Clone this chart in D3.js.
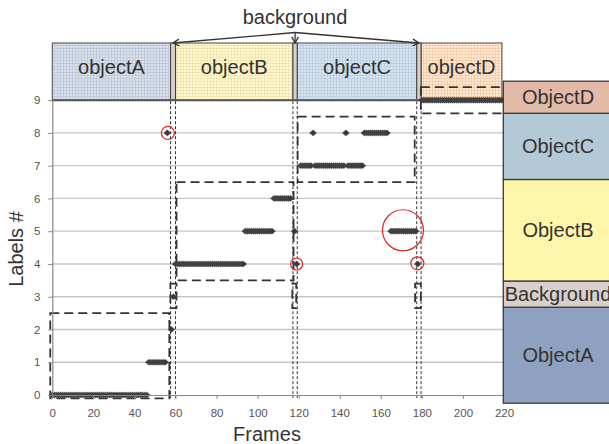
<!DOCTYPE html>
<html><head><meta charset="utf-8">
<script src="https://cdn.jsdelivr.net/npm/d3@7"></script>
<style>body{margin:0;background:#fff}svg{display:block}</style>
</head><body><svg id="c" width="609" height="444"></svg>
<script>
// ---- data ----
const labels = [
  0,0,0,0,0,0,0,0,0,0,
  0,0,0,0,0,0,0,0,0,0,
  0,0,0,0,0,0,0,0,0,0,
  0,0,0,0,0,0,0,0,0,0,
  0,0,0,0,0,0,0,1,1,1,
  1,1,1,1,1,1,8,null,2,3,
  4,4,4,4,4,4,4,4,4,4,
  4,4,4,4,4,4,4,4,4,4,
  4,4,4,4,4,4,4,4,4,4,
  4,4,4,4,5,5,5,5,5,5,
  5,5,5,5,5,5,5,5,6,6,
  6,6,6,6,6,6,6,null,5,4,
  null,7,7,7,7,7,7,8,7,7,
  7,7,7,7,7,7,7,7,7,7,
  7,7,7,8,7,7,7,7,7,7,
  7,7,8,8,8,8,8,8,8,8,
  8,8,8,8,null,5,5,5,5,5,
  5,5,5,5,5,5,5,5,4,null,
  9,9,9,9,9,9,9,9,9,9,
  9,9,9,9,9,9,9,9,9,9,
  9,9,9,9,9,9,9,9,9,9,
  9,9,9,9,9,9,9,9,9,9
];
const xTicks = [0,20,40,60,80,100,120,140,160,180,200,220];
const yTicks = [0,1,2,3,4,5,6,7,8,9];

// header segments (frames)
const headerNames = ["objectA","objectB","objectC","objectD"];
const headerStart = [0, 60.0, 119.3, 179.6];
const headerEnd   = [57.6, 117.2, 177.5, 219];
const stripStart  = [57.6, 117.2, 177.5];
const stripEnd    = [60.0, 119.3, 179.6];

// dashed annotation boxes [x0,x1,y0,y1] in frame/label units
const boxX0 = [-1, 60.5, 119.5, 179.5, 57.5, 116.9, 176.7];
const boxX1 = [57, 117.5, 176.5, 220, 60.5, 118.8, 179.5];
const boxY0 = [-0.1, 3.5, 6.5, 8.6, 2.65, 2.65, 2.65];
const boxY1 = [2.5, 6.5, 8.5, 9.4, 3.4, 3.4, 3.4];

// red circles
const circFrame = [56.3, 119, 170.8, 177.8];
const circLabel = [8, 4, 5.03, 4.02];
const circR     = [6.5, 6, 20.5, 6.5];

// legend
const legendNames = ["ObjectA","Background","ObjectB","ObjectC","ObjectD"];
const legendLo    = [-0.25, 2.68, 3.48, 6.58, 8.6];
const legendHi    = [2.68, 3.48, 6.58, 8.6, 9.58];
const legendColors= ["#8fa1c0","#d9d0cc","#fdf5a9","#b4c9d8","#e3b9a8"];
const headerBase  = ["#dbe1ec","#fef9d6","#d7e4ef","#fde9d5"];
const headerGrid  = ["#bcc6d8","#f0e3a4","#b9cfe1","#f5caa2"];

// ---- drawing ----
const svg = d3.select("#c");
const x = d3.scaleLinear().domain([0,220]).range([52.3,504]);
const y = d3.scaleLinear().domain([0,9]).range([395,100.2]);
const headerTop = 43;
const font = "'Liberation Sans', Arial, sans-serif";

const defs = svg.append("defs");
headerBase.forEach((c,i)=>{
  const p = defs.append("pattern").attr("id","pat"+i).attr("patternUnits","userSpaceOnUse")
    .attr("width",3).attr("height",3);
  p.append("rect").attr("width",3).attr("height",3).attr("fill",c);
  p.append("path").attr("d","M0,0.5H3M0.5,0V3").attr("stroke",headerGrid[i]).attr("stroke-width",0.8);
});

// gridlines
svg.append("g").selectAll("line").data(yTicks.filter(d=>d>0&&d<9)).join("line")
  .attr("x1",x(0)).attr("x2",503).attr("y1",d=>y(d)).attr("y2",d=>y(d))
  .attr("stroke","#cbc4c4").attr("stroke-width",1.3);

// header boxes
const hg = svg.append("g");
headerNames.forEach((n,i)=>{
  hg.append("rect").attr("x",x(headerStart[i])).attr("y",headerTop)
    .attr("width",x(headerEnd[i])-x(headerStart[i])).attr("height",y(9)-headerTop)
    .attr("fill","url(#pat"+i+")").attr("stroke","#555").attr("stroke-width",1.1);
  hg.append("text").attr("x",(x(headerStart[i])+x(headerEnd[i]))/2).attr("y",74)
    .attr("text-anchor","middle").attr("font-family",font).attr("font-size",20)
    .attr("fill","#333").text(n);
});
stripStart.forEach((s,i)=>{
  hg.append("rect").attr("x",x(s)).attr("y",headerTop).attr("width",x(stripEnd[i])-x(s))
    .attr("height",y(9)-headerTop).attr("fill","#d8d0cc").attr("stroke","#444").attr("stroke-width",1.1);
});
// top border line at label 9
svg.append("line").attr("x1",x(0)).attr("x2",x(219)).attr("y1",y(9)).attr("y2",y(9))
  .attr("stroke","#555").attr("stroke-width",2);

// vertical dotted lines
const vl = svg.append("g");
stripStart.concat(stripEnd).forEach(f=>{
  vl.append("line").attr("x1",x(f)).attr("x2",x(f)).attr("y1",y(9)+1).attr("y2",398)
    .attr("stroke","#333").attr("stroke-width",1).attr("stroke-dasharray","3,2");
});

// dashed boxes
svg.append("g").selectAll("rect").data(boxX0.map((d,i)=>i)).join("rect")
  .attr("x",i=>x(boxX0[i])).attr("width",i=>x(boxX1[i])-x(boxX0[i]))
  .attr("y",i=>y(boxY1[i])).attr("height",i=>y(boxY0[i])-y(boxY1[i]))
  .attr("fill","none").attr("stroke","#333").attr("stroke-width",1.8).attr("stroke-dasharray","9,5");

// data diamonds
const diamond = {draw(ctx){ const w=3.6,h=3.1; ctx.moveTo(0,-h);ctx.lineTo(w,0);ctx.lineTo(0,h);ctx.lineTo(-w,0);ctx.closePath(); }};
const sym = d3.symbol().type(diamond);
const pts = labels.map((v,i)=>({f:i,v})).filter(d=>d.v!==null);
svg.append("g").selectAll("path").data(pts).join("path")
  .attr("d",sym).attr("transform",d=>`translate(${x(d.f)},${y(d.v)})`)
  .attr("fill","#383838").attr("stroke","#666").attr("stroke-width",0.4);

// red circles
svg.append("g").selectAll("circle").data(circR.map((d,i)=>i)).join("circle")
  .attr("cx",i=>x(circFrame[i])).attr("cy",i=>y(circLabel[i])).attr("r",i=>circR[i])
  .attr("fill","none").attr("stroke","#e02424").attr("stroke-width",1.2);

// axes
const ax = svg.append("g").attr("transform",`translate(0,${y(0)})`)
  .call(d3.axisBottom(x).tickValues(xTicks).tickSize(4).tickPadding(10).tickSizeOuter(0));
ax.select(".domain").attr("stroke","#8e8484").attr("stroke-width",1.2);
ax.selectAll(".tick line").attr("stroke","#8e8484");
ax.selectAll("text").attr("font-family",font).attr("font-size",11.5).attr("fill","#555");
const ay = svg.append("g").attr("transform",`translate(${x(0)},0)`)
  .call(d3.axisLeft(y).tickValues(yTicks).tickSize(4).tickPadding(8).tickSizeOuter(0));
ay.select(".domain").attr("stroke","#8e8484").attr("stroke-width",1.2);
ay.selectAll(".tick line").attr("stroke","#8e8484");
ay.selectAll("text").attr("font-family",font).attr("font-size",11.5).attr("fill","#555");

// legend
const lg = svg.append("g");
legendNames.forEach((n,i)=>{
  lg.append("rect").attr("x",503.3).attr("y",y(legendHi[i])).attr("width",120)
    .attr("height",y(legendLo[i])-y(legendHi[i])).attr("fill",legendColors[i])
    .attr("stroke","#3a3a3a").attr("stroke-width",1.3);
  lg.append("text").attr("x",558).attr("y",(y(legendHi[i])+y(legendLo[i]))/2+7)
    .attr("text-anchor","middle").attr("font-family",font).attr("font-size",20)
    .attr("fill","#333").text(n);
});

// titles
svg.append("text").attr("x",267).attr("y",441).attr("text-anchor","middle")
  .attr("font-family",font).attr("font-size",20).attr("fill","#333").text("Frames");
svg.append("text").attr("transform","translate(23,249) rotate(-90)").attr("text-anchor","middle")
  .attr("font-family",font).attr("font-size",20).attr("fill","#333").text("Labels #");
svg.append("text").attr("x",295).attr("y",24).attr("text-anchor","middle")
  .attr("font-family",font).attr("font-size",20).attr("fill","#333").text("background");

// arrows
const apexX = x((stripStart[1]+stripEnd[1])/2), apexY = 32.5;
const tips = stripStart.map((s,i)=>[x((s+stripEnd[i])/2), headerTop]);
const ag = svg.append("g").attr("stroke","#333").attr("stroke-width",1.3).attr("fill","none");
tips.forEach(([tx,ty])=>{
  ag.append("line").attr("x1",apexX).attr("y1",apexY).attr("x2",tx).attr("y2",ty);
  const ang = Math.atan2(ty-apexY, tx-apexX);
  const L=7, a=0.5;
  ag.append("path").attr("d",
    `M${tx-L*Math.cos(ang-a)},${ty-L*Math.sin(ang-a)}L${tx},${ty}L${tx-L*Math.cos(ang+a)},${ty-L*Math.sin(ang+a)}`);
});
</script></body></html>
